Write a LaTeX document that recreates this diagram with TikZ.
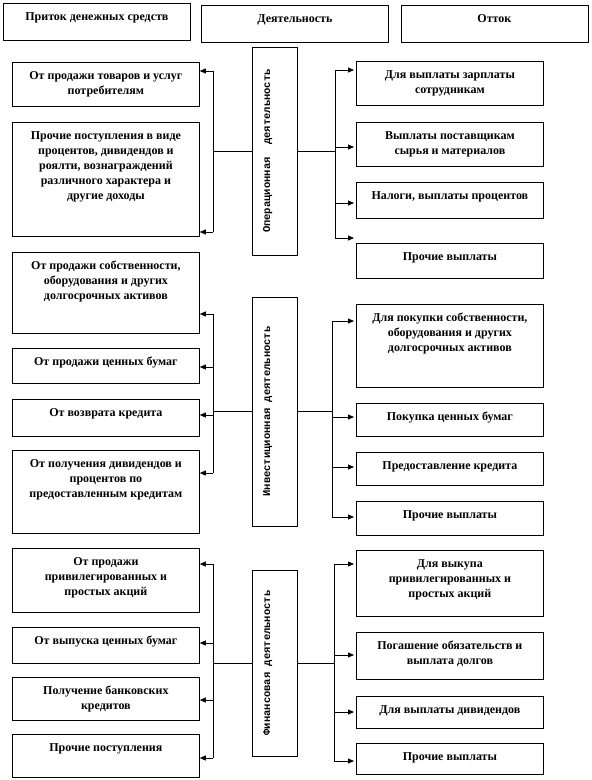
\documentclass[tikz,border=0pt]{standalone}
\usepackage{fontspec}
\usepackage{graphicx}
\setmainfont{Liberation Serif}
\newfontfamily\monofnt{Liberation Mono}
\usetikzlibrary{arrows.meta}

\newcommand{\boxfont}{\fontsize{12}{15}\selectfont\bfseries}
\newcommand{\vfont}{\monofnt\fontsize{10.5}{12}\selectfont\bfseries}
\newcommand{\boxtext}[2]{\parbox[t][#1pt][t]{180pt}{\centering\rule{0pt}{17.5pt}#2}}
\newcommand{\vtext}[1]{\rotatebox{90}{\raisebox{0pt}[7pt][16pt]{#1}}}

\begin{document}
\begin{tikzpicture}[x=1pt,y=-1pt,
  box/.style={draw, line width=0.8pt, anchor=north west, inner xsep=3.5pt, inner ysep=0pt, font=\boxfont},
  vbox/.style={draw, line width=0.8pt, minimum width=45pt, inner sep=0pt, font=\vfont},
  arr/.style={line width=0.8pt, -{Triangle[length=6pt,width=5pt]}},
  bus/.style={line width=0.8pt}]
\useasboundingbox (0,0) rectangle (592,780);

\node[box] (hin) at (3,3) {\boxtext{37}{Приток денежных средств}};
\node[box] (hact) at (201,5) {\boxtext{37}{Деятельность}};
\node[box] (hout) at (400.5,5) {\boxtext{37}{Отток}};

% операционная
\node[vbox, minimum height=208pt] (vop) at (274.5,151) {\vtext{Операционная\ \ деятельность}};
\node[box] (opl1) at (12,62) {\boxtext{44}{От продажи товаров и услуг\\потребителям}};
\node[box] (opl2) at (12,122) {\boxtext{114}{Прочие поступления в виде\\процентов, дивидендов и\\роялти, вознаграждений\\различного характера и\\другие доходы}};
\node[box] (opr1) at (356,61) {\boxtext{44}{Для выплаты зарплаты\\сотрудникам}};
\node[box] (opr2) at (356,122) {\boxtext{44}{Выплаты поставщикам\\сырья и материалов}};
\node[box] (opr3) at (356,182) {\boxtext{36}{Налоги, выплаты процентов}};
\node[box] (opr4) at (356,243) {\boxtext{35}{Прочие выплаты}};

\foreach \y/\n in {71/opl1,232/opl2}{
  \coordinate (\n-in) at (213,\y);
  \draw[arr] (\n-in) -- (\n-in -| \n.east);}
\foreach \y/\n in {70/opr1,147/opr2,203/opr3,238/opr4}{
  \coordinate (\n-out) at (335,\y);
  \draw[arr, shorten >=2pt] (\n-out) -- (\n-out -| \n.west);}
\draw[bus] (opl1-in) -- (opl2-in);
\draw[bus] (opr1-out) -- (opr4-out);
\draw[bus] (vop.west -| opl1-in) -- (vop.west);
\draw[bus] (vop.east) -- (vop.east -| opr1-out);

% инвестиционная
\node[vbox, minimum height=229pt] (vinv) at (274.5,411.5) {\vtext{Инвестиционная деятельность}};
\node[box] (invl1) at (12,252) {\boxtext{81}{От продажи собственности,\\оборудования и других\\долгосрочных активов}};
\node[box] (invl2) at (12,348) {\boxtext{35}{От продажи ценных бумаг}};
\node[box] (invl3) at (12,399) {\boxtext{37}{От возврата кредита}};
\node[box] (invl4) at (12,450) {\boxtext{83}{От получения дивидендов и\\процентов по\\предоставленным кредитам}};
\node[box] (invr1) at (356,304) {\boxtext{83}{Для покупки собственности,\\оборудования и других\\долгосрочных активов}};
\node[box] (invr2) at (356,403) {\boxtext{33}{Покупка ценных бумаг}};
\node[box] (invr3) at (356,452) {\boxtext{33}{Предоставление кредита}};
\node[box] (invr4) at (356,501) {\boxtext{34}{Прочие выплаты}};

\foreach \y/\n in {314/invl1,367/invl2,415/invl3,473/invl4}{
  \coordinate (\n-in) at (213,\y);
  \draw[arr] (\n-in) -- (\n-in -| \n.east);}
\foreach \y/\n in {321/invr1,417/invr2,467/invr3,517/invr4}{
  \coordinate (\n-out) at (332,\y);
  \draw[arr, shorten >=2pt] (\n-out) -- (\n-out -| \n.west);}
\draw[bus] (invl1-in) -- (invl4-in);
\draw[bus] (invr1-out) -- (invr4-out);
\draw[bus] (vinv.west -| invl1-in) -- (vinv.west);
\draw[bus] (vinv.east) -- (vinv.east -| invr1-out);

% финансовая
\node[vbox, minimum height=186pt] (vfin) at (274.5,663) {\vtext{Финансовая деятельность}};
\node[box] (finl1) at (12,548) {\boxtext{64}{От продажи\\привилегированных и\\простых акций}};
\node[box] (finl2) at (12,627) {\boxtext{36}{От выпуска ценных бумаг}};
\node[box] (finl3) at (12,677) {\boxtext{43}{Получение банковских\\кредитов}};
\node[box] (finl4) at (12,734) {\boxtext{43}{Прочие поступления}};
\node[box] (finr1) at (356,550) {\boxtext{66}{Для выкупа\\привилегированных и\\простых акций}};
\node[box] (finr2) at (356,632) {\boxtext{47}{Погашение обязательств и\\выплата долгов}};
\node[box] (finr3) at (356,696) {\boxtext{32}{Для выплаты дивидендов}};
\node[box] (finr4) at (356,743) {\boxtext{31}{Прочие выплаты}};

\foreach \y/\n in {564/finl1,643/finl2,700/finl3,758/finl4}{
  \coordinate (\n-in) at (213,\y);
  \draw[arr] (\n-in) -- (\n-in -| \n.east);}
\foreach \y/\n in {564/finr1,655/finr2,712/finr3,761/finr4}{
  \coordinate (\n-out) at (334,\y);
  \draw[arr, shorten >=2pt] (\n-out) -- (\n-out -| \n.west);}
\draw[bus] (finl1-in) -- (finl4-in);
\draw[bus] (finr1-out) -- (finr4-out);
\draw[bus] (vfin.west -| finl1-in) -- (vfin.west);
\draw[bus] (vfin.east) -- (vfin.east -| finr1-out);
\end{tikzpicture}
\end{document}
